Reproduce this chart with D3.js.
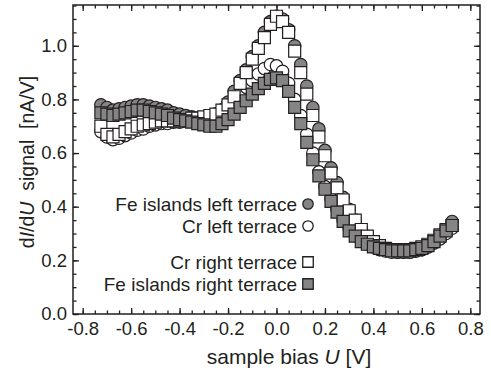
<!DOCTYPE html>
<html>
<head>
<meta charset="utf-8">
<script src="https://cdn.jsdelivr.net/npm/d3@7"></script>
<style>
  body { margin: 0; background: #fff; }
  svg { font-family: "Liberation Sans", Arial, sans-serif; }
</style>
</head>
<body>
<div id="chart"></div>
<script>
// sample bias grid (V)
const bias = [-0.725, -0.700, -0.675, -0.650, -0.625, -0.600, -0.575, -0.550, -0.525, -0.500,
  -0.475, -0.450, -0.425, -0.400, -0.375, -0.350, -0.325, -0.300, -0.275, -0.250,
  -0.225, -0.200, -0.175, -0.150, -0.125, -0.100, -0.075, -0.050, -0.025, 0.000,
  0.025, 0.050, 0.075, 0.100, 0.125, 0.150, 0.175, 0.200, 0.225, 0.250,
  0.275, 0.300, 0.325, 0.350, 0.375, 0.400, 0.425, 0.450, 0.475, 0.500,
  0.525, 0.550, 0.575, 0.600, 0.625, 0.650, 0.675, 0.700, 0.725];

// dI/dU (nA/V)
const feLeft = [0.78, 0.77, 0.76, 0.765, 0.77, 0.775, 0.78, 0.78, 0.775, 0.77,
  0.765, 0.76, 0.75, 0.745, 0.74, 0.735, 0.73, 0.73, 0.735, 0.745,
  0.76, 0.79, 0.83, 0.87, 0.91, 0.96, 1.00, 1.05, 1.09, 1.11,
  1.10, 1.06, 1.00, 0.93, 0.85, 0.77, 0.69, 0.61, 0.545, 0.49,
  0.435, 0.39, 0.35, 0.315, 0.29, 0.265, 0.25, 0.24, 0.235, 0.23,
  0.23, 0.23, 0.235, 0.24, 0.25, 0.265, 0.285, 0.315, 0.345];

const crLeft = [0.68, 0.66, 0.65, 0.655, 0.665, 0.675, 0.685, 0.69, 0.70, 0.705,
  0.71, 0.71, 0.715, 0.715, 0.72, 0.72, 0.725, 0.73, 0.735, 0.745,
  0.76, 0.775, 0.795, 0.82, 0.845, 0.87, 0.895, 0.915, 0.93, 0.925,
  0.905, 0.86, 0.80, 0.74, 0.67, 0.60, 0.53, 0.475, 0.43, 0.39,
  0.35, 0.32, 0.295, 0.275, 0.26, 0.25, 0.24, 0.235, 0.23, 0.23,
  0.23, 0.23, 0.235, 0.24, 0.25, 0.265, 0.28, 0.30, 0.32];

const crRight = [0.70, 0.67, 0.66, 0.67, 0.68, 0.69, 0.70, 0.705, 0.71, 0.715,
  0.72, 0.72, 0.72, 0.72, 0.725, 0.73, 0.73, 0.735, 0.74, 0.745,
  0.76, 0.78, 0.81, 0.86, 0.90, 0.95, 0.99, 1.03, 1.08, 1.11,
  1.09, 1.05, 0.98, 0.90, 0.82, 0.74, 0.66, 0.59, 0.525, 0.47,
  0.425, 0.385, 0.35, 0.315, 0.29, 0.27, 0.255, 0.245, 0.24, 0.24,
  0.24, 0.24, 0.245, 0.25, 0.26, 0.275, 0.295, 0.315, 0.33];

const feRight = [0.75, 0.745, 0.74, 0.745, 0.75, 0.755, 0.76, 0.76, 0.755, 0.75,
  0.745, 0.74, 0.73, 0.725, 0.72, 0.715, 0.71, 0.705, 0.70, 0.70,
  0.71, 0.725, 0.745, 0.77, 0.795, 0.82, 0.84, 0.86, 0.875, 0.88,
  0.87, 0.83, 0.77, 0.71, 0.64, 0.575, 0.515, 0.465, 0.42, 0.38,
  0.345, 0.31, 0.29, 0.27, 0.26, 0.25, 0.245, 0.24, 0.235, 0.235,
  0.235, 0.235, 0.24, 0.245, 0.255, 0.27, 0.29, 0.31, 0.33];

const xTicks = [-0.8, -0.6, -0.4, -0.2, 0.0, 0.2, 0.4, 0.6, 0.8];
const yTicks = [0.0, 0.2, 0.4, 0.6, 0.8, 1.0];

const series = [
  { name: 'Fe islands left terrace', values: feLeft, shape: 'circle', fill: '#858585' },
  { name: 'Cr left terrace', values: crLeft, shape: 'circle', fill: '#ffffff' },
  { name: 'Cr right terrace', values: crRight, shape: 'square', fill: '#ffffff' },
  { name: 'Fe islands right terrace', values: feRight, shape: 'square', fill: '#858585' }
];

const W = 491, H = 373;
const margin = { top: 5, right: 11, bottom: 59, left: 73 };
const width = W - margin.left - margin.right;
const height = H - margin.top - margin.bottom;
const ink = '#231f20';

const svg = d3.select('#chart').append('svg')
  .attr('width', W)
  .attr('height', H);

const g = svg.append('g')
  .attr('transform', `translate(${margin.left},${margin.top})`);

const x = d3.scaleLinear().domain([-0.84, 0.84]).range([0, width]);
const y = d3.scaleLinear().domain([0, 1.152]).range([height, 0]);

const minorX = d3.range(-0.8, 0.81, 0.05).map(v => +v.toFixed(2));
const minorY = d3.range(0, 1.151, 0.05).map(v => +v.toFixed(2));
const fmt = d => d.toFixed(1);

// markers
const sym = { circle: d3.symbolCircle, square: d3.symbolSquare };
series.forEach(s => {
  const shape = d3.symbol().type(sym[s.shape]).size(s.shape === 'circle' ? Math.PI * 6.2 * 6.2 : 12 * 12);
  g.append('g').selectAll('path')
    .data(s.values.map((v, i) => ({ u: bias[i], v })))
    .enter()
    .append('path')
    .attr('d', shape)
    .attr('transform', d => `translate(${x(d.u)},${y(d.v)})`)
    .attr('fill', s.fill)
    .attr('stroke', ink)
    .attr('stroke-width', 1.2);
});

// axes, ticks pointing inwards on all four sides
function style(sel) {
  sel.select('.domain').remove();
  sel.selectAll('line').attr('stroke', ink).attr('stroke-width', 1.3);
  sel.selectAll('text').attr('fill', ink).style('font-size', '18.5px');
}

g.append('g').attr('transform', `translate(0,${height})`)
  .call(d3.axisBottom(x).tickValues(xTicks).tickSize(-6).tickPadding(8).tickFormat(fmt))
  .call(style);
g.append('g').attr('transform', `translate(0,${height})`)
  .call(d3.axisBottom(x).tickValues(minorX).tickSize(-3.5).tickFormat(''))
  .call(style);
g.append('g')
  .call(d3.axisTop(x).tickValues(xTicks).tickSize(-6).tickFormat(''))
  .call(style);
g.append('g')
  .call(d3.axisTop(x).tickValues(minorX).tickSize(-3.5).tickFormat(''))
  .call(style);

g.append('g')
  .call(d3.axisLeft(y).tickValues(yTicks).tickSize(-6).tickPadding(6).tickFormat(fmt))
  .call(style);
g.append('g')
  .call(d3.axisLeft(y).tickValues(minorY).tickSize(-3.5).tickFormat(''))
  .call(style);
g.append('g').attr('transform', `translate(${width},0)`)
  .call(d3.axisRight(y).tickValues(yTicks).tickSize(-6).tickFormat(''))
  .call(style);
g.append('g').attr('transform', `translate(${width},0)`)
  .call(d3.axisRight(y).tickValues(minorY).tickSize(-3.5).tickFormat(''))
  .call(style);

// frame
g.append('rect')
  .attr('width', width)
  .attr('height', height)
  .attr('fill', 'none')
  .attr('stroke', ink)
  .attr('stroke-width', 1.5);

// axis titles
const xt = svg.append('text')
  .attr('x', 289)
  .attr('y', 364)
  .attr('text-anchor', 'middle')
  .attr('fill', ink)
  .style('font-size', '21px');
xt.append('tspan').text('sample bias ');
xt.append('tspan').attr('font-style', 'italic').text('U');
xt.append('tspan').text(' [V]');

const yt = svg.append('text')
  .attr('transform', 'translate(34,162) rotate(-90)')
  .attr('text-anchor', 'middle')
  .attr('fill', ink)
  .style('font-size', '19.5px')
  .style('white-space', 'pre');
yt.append('tspan').text('d');
yt.append('tspan').attr('font-style', 'italic').text('I');
yt.append('tspan').text('/d');
yt.append('tspan').attr('font-style', 'italic').text('U');
yt.append('tspan').text('  signal  [nA/V]');

// legend
const legendRows = [204, 226, 262, 284];
const legend = svg.append('g');
series.forEach((s, i) => {
  const shape = d3.symbol().type(sym[s.shape]).size(s.shape === 'circle' ? Math.PI * 5.2 * 5.2 : 10.5 * 10.5);
  legend.append('path')
    .attr('d', shape)
    .attr('transform', `translate(308,${legendRows[i]})`)
    .attr('fill', s.fill)
    .attr('stroke', ink)
    .attr('stroke-width', 1.3);
  legend.append('text')
    .attr('x', 297)
    .attr('y', legendRows[i])
    .attr('dy', '0.35em')
    .attr('text-anchor', 'end')
    .attr('fill', ink)
    .style('font-size', '19px')
    .text(s.name);
});
</script>
</body>
</html>
